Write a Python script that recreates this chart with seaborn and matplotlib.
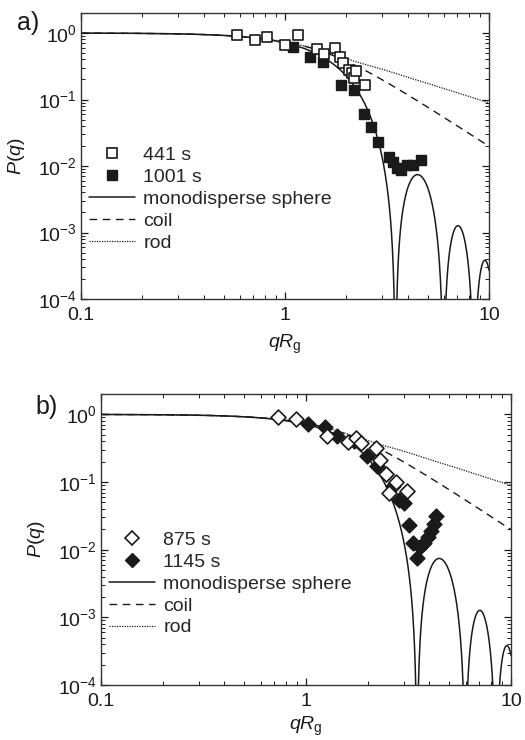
import numpy as np
import matplotlib
matplotlib.use("Agg")
import matplotlib.pyplot as plt
from matplotlib.lines import Line2D
from matplotlib.ticker import FixedLocator, FixedFormatter, NullFormatter
import seaborn as sns

# ── Measured form factors (read off the figure) ────────────────────────────
# panel a
qrg_441 = [0.58, 0.71, 0.82, 1.0, 1.16, 1.43, 1.55, 1.75, 1.86, 1.92, 2.06,
           2.12, 2.18, 2.24, 2.47]
p_441 = [0.94, 0.79, 0.86, 0.67, 0.92, 0.58, 0.48, 0.60, 0.44, 0.35, 0.28,
         0.25, 0.21, 0.27, 0.167]
qrg_1001 = [1.09, 1.32, 1.53, 1.88, 2.18, 2.45, 2.65, 2.87, 3.22, 3.38, 3.55,
            3.72, 3.95, 4.25, 4.62]
p_1001 = [0.62, 0.43, 0.37, 0.168, 0.137, 0.06, 0.038, 0.023, 0.0138, 0.0115,
          0.0093, 0.0088, 0.0102, 0.0104, 0.0124]

# panel b
qrg_875 = [0.73, 0.89, 1.26, 1.60, 1.75, 1.85, 2.20, 2.30, 2.45, 2.55, 2.75, 3.10]
p_875 = [0.92, 0.84, 0.48, 0.39, 0.45, 0.38, 0.32, 0.21, 0.13, 0.068, 0.10, 0.073]
qrg_1145 = [1.02, 1.24, 1.42, 1.72, 1.98, 2.22, 2.45, 2.65, 2.85, 3.02, 3.18,
            3.34, 3.46, 3.60, 3.75, 3.95, 4.05, 4.20, 4.30]
p_1145 = [0.72, 0.64, 0.48, 0.40, 0.24, 0.17, 0.13, 0.087, 0.055, 0.049, 0.023,
          0.0125, 0.0076, 0.011, 0.0125, 0.0155, 0.019, 0.024, 0.032]

y_ticks = [1e-4, 1e-3, 1e-2, 1e-1, 1e0]
x_ticks = [0.1, 1, 10]
x_tick_labels = ["0.1", "1", "10"]

# ── Model curves (theory: sphere, Gaussian coil, thin rod) ─────────────────
x = np.logspace(-1, 1, 3000)

qr = x * np.sqrt(5.0 / 3.0)                     # sphere: R = sqrt(5/3) Rg
p_sphere = (3 * (np.sin(qr) - qr * np.cos(qr)) / qr**3) ** 2

p_coil = 2 * (np.exp(-x**2) + x**2 - 1) / x**4  # Debye

u = x * np.sqrt(12.0)                           # rod: Rg^2 = L^2/12
t = np.linspace(1e-9, 40, 40001)
si = np.concatenate([[0], np.cumsum(0.5 * (np.sinc(t[1:] / np.pi) + np.sinc(t[:-1] / np.pi)) * np.diff(t))])
p_rod = 2 * np.interp(u, t, si) / u - (np.sin(u / 2) / (u / 2)) ** 2

# ── Style ──────────────────────────────────────────────────────────────────
sns.set_style("ticks")
plt.rcParams["font.family"] = ["Liberation Sans", "DejaVu Sans"]
plt.rcParams["mathtext.fontset"] = "custom"
plt.rcParams["mathtext.rm"] = "Liberation Sans"
plt.rcParams["mathtext.it"] = "Liberation Sans:italic"
plt.rcParams["mathtext.default"] = "regular"

INK = "#1a1a1a"
FS = 14

fig = plt.figure(figsize=(5.25, 7.4), dpi=100)
ax_a = fig.add_axes([81 / 525, 1 - 299 / 740, 408 / 525, 286 / 740])
ax_b = fig.add_axes([101 / 525, 1 - 685 / 740, 410 / 525, 291 / 740])


def draw_panel(ax, xo, yo, xf, yf, marker, msize, lab_open, lab_fill, leg_y, xpad):
    sns.lineplot(x=x, y=p_sphere, ax=ax, color=INK, linewidth=1.1,
                 estimator=None, sort=False)
    sns.lineplot(x=x, y=p_coil, ax=ax, color=INK, linewidth=1.0,
                 linestyle=(0, (5.5, 4)), estimator=None, sort=False)
    sns.lineplot(x=x, y=p_rod, ax=ax, color=INK, linewidth=0.9,
                 linestyle=(0, (1, 1)), estimator=None, sort=False)

    sns.scatterplot(x=xf, y=yf, ax=ax, marker=marker, s=msize**2,
                    color=INK, edgecolor=INK, linewidth=1.0, zorder=3)
    sns.scatterplot(x=xo, y=yo, ax=ax, marker=marker, s=msize**2,
                    color="white", edgecolor=INK, linewidth=1.2, zorder=4)

    ax.set_xscale("log")
    ax.set_yscale("log")
    ax.set_xlim(0.1, 10)
    ax.set_ylim(1e-4, 2.0)

    ax.xaxis.set_major_locator(FixedLocator(x_ticks))
    ax.xaxis.set_major_formatter(FixedFormatter(x_tick_labels))
    ax.xaxis.set_minor_formatter(NullFormatter())
    ax.yaxis.set_major_locator(FixedLocator(y_ticks))
    ax.yaxis.set_minor_formatter(NullFormatter())

    ax.tick_params(which="both", direction="in", top=True, right=True,
                   colors=INK, labelsize=FS)
    ax.tick_params(which="major", length=5, width=0.9)
    ax.tick_params(which="minor", length=3, width=0.7)
    ax.tick_params(axis="x", pad=6)
    ax.tick_params(axis="y", pad=3)
    for sp in ax.spines.values():
        sp.set_visible(True)
        sp.set_color("#333333")
        sp.set_linewidth(1.0)

    ax.set_xlabel(r"$\mathit{qR}_{\mathrm{g}}$", fontsize=FS, color=INK, labelpad=xpad)
    ax.set_ylabel(r"$\mathit{P}(\mathit{q})$", fontsize=FS, color=INK, labelpad=8)

    handles = [
        Line2D([], [], marker=marker, linestyle="none", markersize=msize,
               markerfacecolor="white", markeredgecolor=INK, markeredgewidth=1.2),
        Line2D([], [], marker=marker, linestyle="none", markersize=msize,
               markerfacecolor=INK, markeredgecolor=INK),
        Line2D([], [], color=INK, linewidth=1.1),
        Line2D([], [], color=INK, linewidth=1.0, linestyle=(0, (5.5, 4))),
        Line2D([], [], color=INK, linewidth=0.9, linestyle=(0, (1, 1))),
    ]
    labels = [lab_open, lab_fill, "monodisperse sphere", "coil", "rod"]
    ax.legend(handles, labels, loc="upper left", bbox_to_anchor=(0.0, leg_y),
              frameon=False, fontsize=FS, handlelength=2.4, handletextpad=0.4,
              labelspacing=0.22, borderaxespad=0.2, borderpad=0.2)


draw_panel(ax_a, qrg_441, p_441, qrg_1001, p_1001, "s", 7.5,
           "441 s", "1001 s", 0.56, 6)
draw_panel(ax_b, qrg_875, p_875, qrg_1145, p_1145, "D", 7.6,
           "875 s", "1145 s", 0.555, 3)

fig.text(17 / 525, 1 - 23 / 740, "a)", fontsize=18, va="center", ha="left", color=INK)
fig.text(35 / 525, 1 - 407 / 740, "b)", fontsize=18, va="center", ha="left", color=INK)

fig.savefig("out.png", dpi=100, facecolor="white")
